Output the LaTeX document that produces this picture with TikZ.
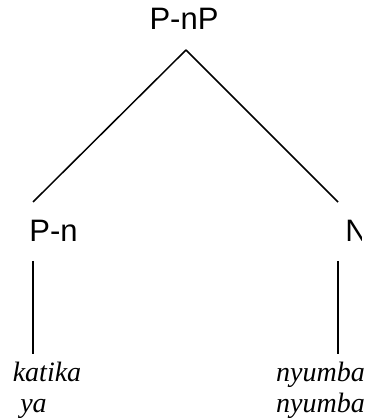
\documentclass[tikz,border=0pt]{standalone}
\usepackage{fontspec}
\setmainfont{Liberation Serif}
\newfontfamily\catfont{Liberation Sans}
\usepackage{tikz}

\tikzset{
  cat/.style={font=\catfont\fontsize{31}{31}\selectfont, inner sep=0pt, anchor=base},
  word/.style={font=\itshape\fontsize{28}{30}\selectfont, inner sep=0pt, anchor=base}
}

\begin{document}
\begin{tikzpicture}
[x=1pt,y=1pt,line width=1.5pt]
\useasboundingbox (0,0) rectangle (368,420);

\node[cat] (pnp) at (184,390) {P-nP};
\node[cat] (pn) at (53.5,178) {P-n};
% the N is cut at the right
\begin{scope}
\clip (0,0) rectangle (361,420);
\node[cat,anchor=base west] (n) at (344.6,178) {N};
\end{scope}

\node[word] (w1) at (47,38) {katika};
\node[word] (w2) at (33.5,8) {ya};
\node[word] (w3) at (320.5,38) {nyumba};
\node[word] (w4) at (320.5,8) {nyumba};

\coordinate (top) at (186,370);
\coordinate (l1) at (33,218);
\coordinate (r1) at (338,218);
\coordinate (l2) at (33,159);
\coordinate (l3) at (33,66);
\coordinate (r2) at (338,159);
\coordinate (r3) at (338,66);

\foreach \from/\to in {top/l1,top/r1}
\draw (\from) -- (\to);
\foreach \from/\to in {l2/l3,r2/r3}
\draw[line width=2pt] (\from) -- (\to);
\end{tikzpicture}
\end{document}
